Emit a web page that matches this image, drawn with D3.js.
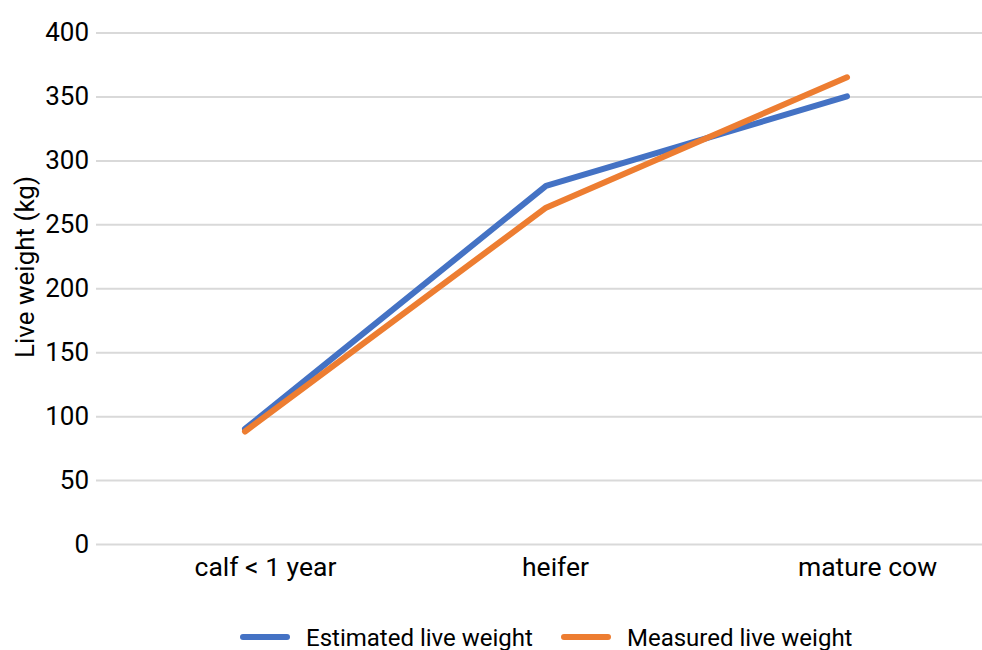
<!DOCTYPE html>
<html>
<head>
<meta charset="utf-8">
<script src="https://cdn.jsdelivr.net/npm/d3@7"></script>
<style>
  body { margin: 0; background: #fff; }
  svg { display: block; font-family: Roboto, sans-serif; }
  .tick text { fill: #000; }
</style>
</head>
<body>
<svg width="982" height="650"></svg>
<script>
var categories = ["calf < 1 year", "heifer", "mature cow"];
var estimated = [90, 280, 350];
var measured = [88, 263, 365];
var yTicks = [0, 50, 100, 150, 200, 250, 300, 350, 400];
var seriesNames = ["Estimated live weight", "Measured live weight"];
var colors = ["#4472C4", "#ED7D31"];

var svg = d3.select("svg");
var plotLeft = 96, plotRight = 982, plotTop = 32.5, plotBottom = 544;

var y = d3.scaleLinear().domain([0, 400]).range([plotBottom, plotTop]);
var x = d3.scalePoint().domain(categories).range([245, 847]);

// gridlines + y labels
var yAxis = svg.append("g")
  .attr("transform", "translate(" + plotLeft + ",0)")
  .call(d3.axisLeft(y).tickValues(yTicks).tickSize(-(plotRight - plotLeft)).tickPadding(7));
yAxis.select(".domain").remove();
yAxis.selectAll(".tick line").attr("stroke", "#d9d9d9").attr("stroke-width", 2);
yAxis.selectAll(".tick text").attr("font-size", 26).attr("font-family", "Roboto, sans-serif");

// x labels (category text sits a bit right of the data points, like the source)
var xAxis = svg.append("g")
  .attr("transform", "translate(20," + plotBottom + ")")
  .call(d3.axisBottom(x).tickSize(0).tickPadding(13));
xAxis.select(".domain").remove();
xAxis.selectAll(".tick text")
  .attr("font-size", 26.5)
  .attr("font-family", "Roboto, sans-serif")
  .attr("dx", function (d) { return d === "heifer" ? -11 : 0; });

svg.append("text")
  .attr("transform", "translate(34,267) rotate(-90)")
  .attr("text-anchor", "middle")
  .attr("font-size", 26)
  .text("Live weight (kg)");

var line = d3.line()
  .x(function (d, i) { return x(categories[i]); })
  .y(function (d) { return y(d); });

[estimated, measured].forEach(function (s, k) {
  svg.append("path")
    .datum(s)
    .attr("d", line)
    .attr("fill", "none")
    .attr("stroke", colors[k])
    .attr("stroke-width", 6)
    .attr("stroke-linecap", "round")
    .attr("stroke-linejoin", "round");
});

// legend
var legendX = [240, 561];
seriesNames.forEach(function (name, k) {
  var g = svg.append("g").attr("transform", "translate(" + legendX[k] + ",637)");
  g.append("line").attr("x1", 3).attr("x2", 47).attr("y1", 0).attr("y2", 0)
    .attr("stroke", colors[k]).attr("stroke-width", 6).attr("stroke-linecap", "round");
  g.append("text").attr("x", 66).attr("y", 9).attr("font-size", 24).text(name);
});
</script>
</body>
</html>
